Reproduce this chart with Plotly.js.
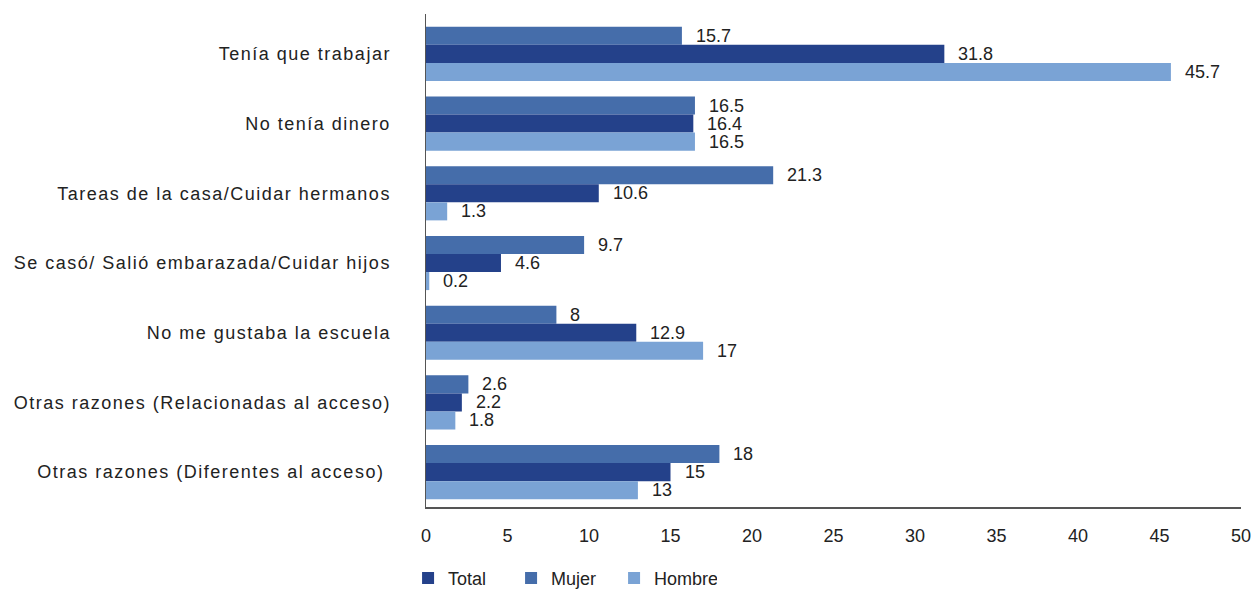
<!DOCTYPE html>
<html>
<head>
<meta charset="utf-8">
<script src="https://cdn.plot.ly/plotly-3.0.1.min.js"></script>
<style>
html,body{margin:0;padding:0;background:#fff;}
#chart{width:1254px;height:590px;}
#chart .ytick text{letter-spacing:1.5px;}
</style>
</head>
<body>
<div id="chart"></div>
<script>
const categories = [
  "Tenía que trabajar",
  "No tenía dinero",
  "Tareas de la casa/Cuidar hermanos",
  "Se casó/ Salió embarazada/Cuidar hijos",
  "No me gustaba la escuela",
  "Otras razones (Relacionadas al acceso)",
  "Otras razones (Diferentes al acceso) "
];
const mujer  = [15.7, 16.5, 21.3, 9.7, 8, 2.6, 18];
const total  = [31.8, 16.4, 10.6, 4.6, 12.9, 2.2, 15];
const hombre = [45.7, 16.5, 1.3, 0.2, 17, 1.8, 13];

const colors = {Mujer: "#456DAA", Total: "#24418A", Hombre: "#7AA3D5"};
const font = "Liberation Sans, Arial, sans-serif";

const series = [
  {name: "Mujer", values: mujer, rank: 2, shift: 18},
  {name: "Total", values: total, rank: 1, shift: 0},
  {name: "Hombre", values: hombre, rank: 3, shift: -18}
];

const traces = series.map(s => ({
  type: "bar",
  orientation: "h",
  name: s.name,
  x: s.values,
  y: categories,
  marker: {color: colors[s.name]},
  legendrank: s.rank,
  hoverinfo: "x+name"
}));

const annotations = [];
series.forEach(s => {
  s.values.forEach((v, i) => {
    annotations.push({
      x: v, y: categories[i], xref: "x", yref: "y",
      text: String(v), showarrow: false,
      xanchor: "left", yanchor: "middle",
      xshift: 12, yshift: s.shift,
      font: {family: font, size: 18, color: "#222"}
    });
  });
});

const layout = {
  width: 1254, height: 590,
  margin: {l: 426, r: 13, t: 14, b: 83},
  paper_bgcolor: "#fff", plot_bgcolor: "#fff",
  barmode: "group", bargap: 0.223, bargroupgap: 0,
  font: {family: font, size: 18, color: "#222"},
  xaxis: {
    range: [0, 50], dtick: 5, tick0: 0,
    showgrid: false, zeroline: false,
    showline: true, linecolor: "#555", linewidth: 1.5,
    ticks: "", ticklabelstandoff: 12,
    tickfont: {family: font, size: 18, color: "#222"}
  },
  yaxis: {
    type: "category",
    range: [6.5, -0.572],
    showgrid: false, zeroline: false,
    showline: true, linecolor: "#555", linewidth: 1.5,
    ticks: "", ticklabelstandoff: 30,
    tickfont: {family: font, size: 18, color: "#222"}
  },
  showlegend: true,
  legend: {
    orientation: "h",
    xref: "paper", x: -0.022, xanchor: "left",
    yref: "container", y: 0.02, yanchor: "middle",
    traceorder: "normal",
    entrywidth: 58, entrywidthmode: "pixels",
    font: {family: font, size: 18, color: "#222"},
    itemclick: false
  },
  annotations: annotations
};

Plotly.newPlot("chart", traces, layout, {displayModeBar: false, staticPlot: true});
</script>
</body>
</html>
